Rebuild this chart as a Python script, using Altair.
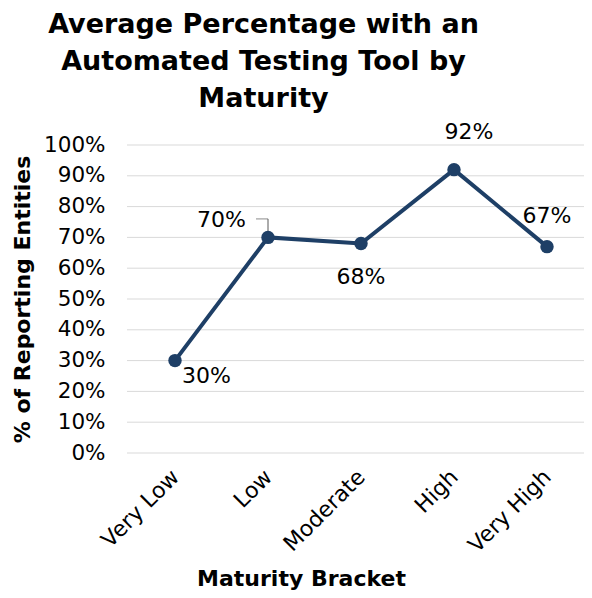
import altair as alt
import pandas as pd

categories = ["Very Low", "Low", "Moderate", "High", "Very High"]
values = [0.30, 0.70, 0.68, 0.92, 0.67]
y_ticks = [0, 0.1, 0.2, 0.3, 0.4, 0.5, 0.6, 0.7, 0.8, 0.9, 1.0]

df = pd.DataFrame({"cat": categories, "val": values})
grid_df = pd.DataFrame({"g": y_ticks})

NAVY = "#1E3F66"
FONT = "DejaVu Sans"
W, H = 457, 308

x_enc = alt.X("cat:N", sort=categories,
              scale=alt.Scale(type="point", range=[48, 420], padding=0),
              axis=alt.Axis(title="Maturity Bracket", labelAngle=-45, labelAlign="right",
                            labelBaseline="middle", labelPadding=20, labelFontSize=22,
                            labelFont=FONT, labelColor="black", ticks=False, domain=False,
                            grid=False, labelOverlap=False, titleFont=FONT, titleFontSize=22,
                            titleFontWeight="bold", titleColor="black", titleX=174, titleY=132,
                            titleBaseline="alphabetic", titleAnchor="middle", titleAlign="center"))
y_scale = alt.Scale(domain=[0, 1])
y_axis = alt.Axis(title="% of Reporting Entities", values=y_ticks, format=".0%",
                  labelFontSize=21.5, labelFont=FONT, labelColor="black",
                  labelPadding=22, ticks=False, domain=False, grid=False,
                  labelOverlap=False, titleFont=FONT,
                  titleFontSize=22, titleFontWeight="bold", titleColor="black",
                  titlePadding=9)
y_enc = alt.Y("val:Q", scale=y_scale, axis=y_axis)

base = alt.Chart(df)

gridlines = alt.Chart(grid_df).mark_rule(color="#D9D9D9", strokeWidth=1).encode(
    y=alt.Y("g:Q", scale=y_scale, axis=y_axis), x=alt.value(0), x2=alt.value(W))

line = base.mark_line(color=NAVY, strokeWidth=4).encode(x=x_enc, y=y_enc)
points = base.mark_point(filled=True, color=NAVY, size=180, opacity=1).encode(x=x_enc, y=y_enc)

# leader line for the "Low" label
leader_v = base.transform_filter(alt.datum.cat == "Low").mark_rule(
    color="#595959", strokeWidth=1).encode(x=x_enc, y=y_enc, y2=alt.datum(0.76))
leader_h = base.transform_filter(alt.datum.cat == "Low").mark_tick(
    color="#595959", thickness=1, size=12, xOffset=-6, orient="horizontal").encode(
    x=x_enc, y=alt.YDatum(0.76, scale=y_scale, axis=y_axis))


def label(cat, align, dx, dy):
    return base.transform_filter(alt.datum.cat == cat).mark_text(
        font=FONT, fontSize=22, color="black", align=align, baseline="middle",
        dx=dx, dy=dy).encode(x=x_enc, y=y_enc, text=alt.Text("val:Q", format=".0%"))


labels = [
    label("Very Low", "left", 7, 15),
    label("Low", "right", -22, -17),
    label("Moderate", "center", 0, 33),
    label("High", "center", 15, -38),
    label("Very High", "center", 0, -31),
]

chart = alt.layer(gridlines, leader_v, leader_h, line, points, *labels).properties(
    width=W, height=H,
    title=alt.Title(["Average Percentage with an", "Automated Testing Tool by", "Maturity"],
                    font=FONT, fontSize=27, fontWeight="bold", color="black",
                    lineHeight=37, anchor="middle", frame="group", dx=-92, offset=8),
    autosize=alt.AutoSizeParams(type="none"),
    padding={"left": 119, "top": 137, "right": 0, "bottom": 137},
).configure_view(stroke=None)

chart.save("out.html", embed_options={"renderer": "svg", "actions": False})
